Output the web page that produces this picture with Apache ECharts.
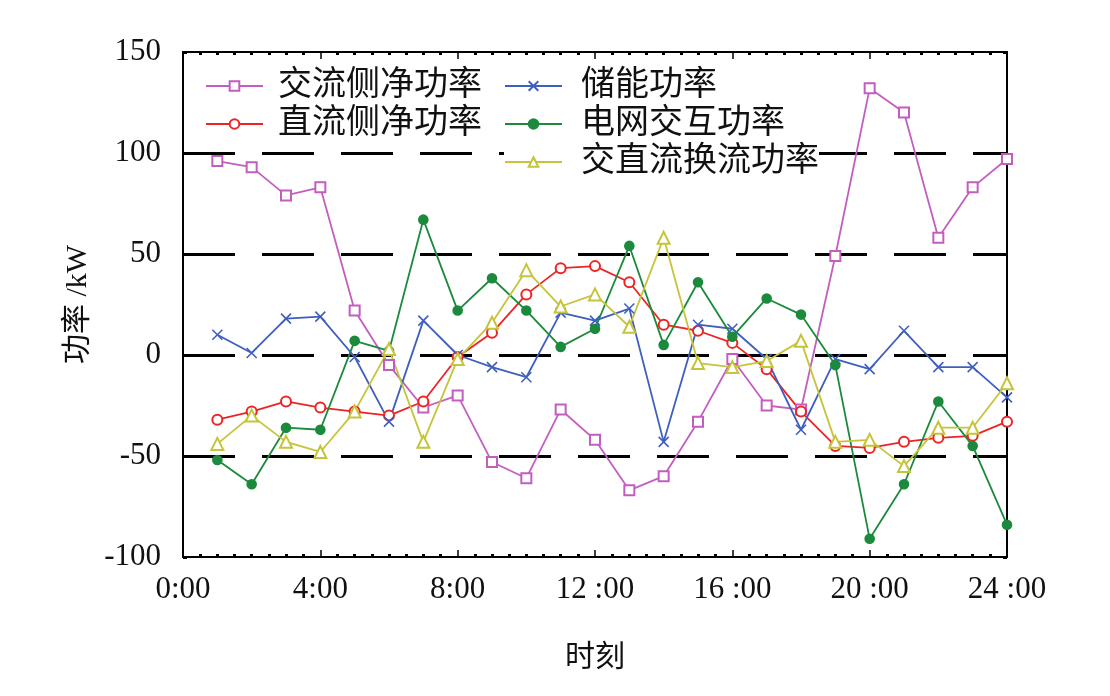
<!DOCTYPE html>
<html>
<head>
<meta charset="utf-8">
<script src="https://cdn.jsdelivr.net/npm/echarts@6/dist/echarts.min.js"></script>
<style>
html,body{margin:0;padding:0;background:#fff;}
#chart{width:1110px;height:696px;}
</style>
</head>
<body>
<div id="chart"></div>
<script>
// ---- data ----
const hours = [1,2,3,4,5,6,7,8,9,10,11,12,13,14,15,16,17,18,19,20,21,22,23,24];
const xTickLabels = ['0:00','4:00','8:00','12 :00','16 :00','20 :00','24 :00'];
const seriesNames = ['交流侧净功率','直流侧净功率','储能功率','电网交互功率','交直流换流功率'];
const acNetPower   = [96, 93, 79, 83, 22, -5, -26, -20, -53, -61, -27, -42, -67, -60, -33, -2, -25, -27, 49, 132, 120, 58, 83, 97];
const dcNetPower   = [-32, -28, -23, -26, -28, -30, -23, -1, 11, 30, 43, 44, 36, 15, 12, 6, -7, -28, -45, -46, -43, -41, -40, -33];
const storagePower = [10, 1, 18, 19, -1, -33, 17, 0, -6, -11, 21, 17, 23, -43, 15, 13, -2, -37, -2, -7, 12, -6, -6, -21];
const gridPower    = [-52, -64, -36, -37, 7, 2, 67, 22, 38, 22, 4, 13, 54, 5, 36, 9, 28, 20, -5, -91, -64, -23, -45, -84];
const converterPower = [-44, -30, -43, -48, -28, 3, -43, -2, 16, 42, 24, 30, 14, 58, -4, -6, -3, 7, -43, -42, -55, -36, -36, -14];

const FONT = '"Liberation Serif", "Noto Sans CJK SC", serif';
const pairs = arr => hours.map((h, i) => [h, arr[i]]);

const chart = echarts.init(document.getElementById('chart'), null, {renderer: 'canvas'});

function mkSeries(name, data, color, symbol, size) {
  return {
    name, type: 'line', data: pairs(data),
    xAxisIndex: 0, yAxisIndex: 0,
    symbol, symbolSize: size, showAllSymbol: true,
    lineStyle: {color, width: 1.8},
    itemStyle: {color, borderColor: color, borderWidth: 1.6},
    emphasis: {disabled: true},
    animation: false
  };
}

const xCommon = {
  type: 'value', min: 0, max: 24, interval: 4,
  axisLine: {show: true, onZero: false, lineStyle: {color: '#000', width: 2}},
  axisTick: {show: true, inside: true, length: 7, lineStyle: {color: '#000', width: 1.5}},
  minorTick: {show: true, splitNumber: 8, length: 3, lineStyle: {color: '#000', width: 3}},
  splitLine: {show: false}
};
const yCommon = {
  type: 'value', min: -100, max: 150, interval: 50,
  axisLine: {show: true, onZero: false, lineStyle: {color: '#000', width: 2}},
  axisTick: {show: true, inside: true, length: 4, lineStyle: {color: '#000', width: 3}}
};

chart.setOption({
  backgroundColor: '#fff',
  animation: false,
  grid: {left: 183, right: 103, top: 52, bottom: 139, containLabel: false},
  xAxis: [
    Object.assign({}, xCommon, {
      position: 'bottom',
      axisLabel: {show: true, margin: 17, fontFamily: FONT, fontSize: 31, color: '#111',
        formatter: v => xTickLabels[Math.round(v / 4)]},
      name: '时刻', nameLocation: 'middle', nameGap: 86,
      nameTextStyle: {fontFamily: FONT, fontSize: 30, color: '#111'}
    }),
    Object.assign({}, xCommon, {position: 'top', axisLabel: {show: false}})
  ],
  yAxis: [
    Object.assign({}, yCommon, {
      position: 'left',
      axisLabel: {show: true, margin: 22, fontFamily: FONT, fontSize: 31, color: '#111'},
      splitLine: {show: true, showMinLine: false, showMaxLine: false,
        lineStyle: {color: '#000', width: 3, type: [52, 27]}},
      name: '功率 /kW', nameLocation: 'middle', nameGap: 86, nameRotate: 90,
      nameTextStyle: {fontFamily: FONT, fontSize: 30, color: '#111'}
    }),
    Object.assign({}, yCommon, {position: 'right', axisLabel: {show: false}, splitLine: {show: false}})
  ],
  legend: [
    {
      data: [seriesNames[0], seriesNames[1]],
      orient: 'vertical', left: 205, top: 69, padding: 0,
      itemWidth: 57, itemHeight: 12, itemGap: 4,
      textStyle: {fontFamily: FONT, fontSize: 34, lineHeight: 33, color: '#111', padding: [0, 0, 0, 10]},
      backgroundColor: 'rgba(255,255,255,0)'
    },
    {
      data: [seriesNames[2], seriesNames[3], seriesNames[4]],
      orient: 'vertical', left: 504, top: 69, padding: 0,
      itemWidth: 57, itemHeight: 12, itemGap: 4,
      textStyle: {fontFamily: FONT, fontSize: 34, lineHeight: 33, color: '#111', padding: [0, 0, 0, 14]},
      backgroundColor: '#fff'
    }
  ],
  series: [
    mkSeries(seriesNames[0], acNetPower, '#c35ec0', 'emptyRect', 10),
    mkSeries(seriesNames[1], dcNetPower, '#ee2424', 'emptyCircle', 10),
    mkSeries(seriesNames[2], storagePower, '#3f5fbf', 'path://M0,0L10,10M0,10L10,0', 10),
    mkSeries(seriesNames[3], gridPower, '#1b8a3c', 'circle', 9),
    mkSeries(seriesNames[4], converterPower, '#c5c43a', 'emptyTriangle', 12)
  ]
});
</script>
</body>
</html>
